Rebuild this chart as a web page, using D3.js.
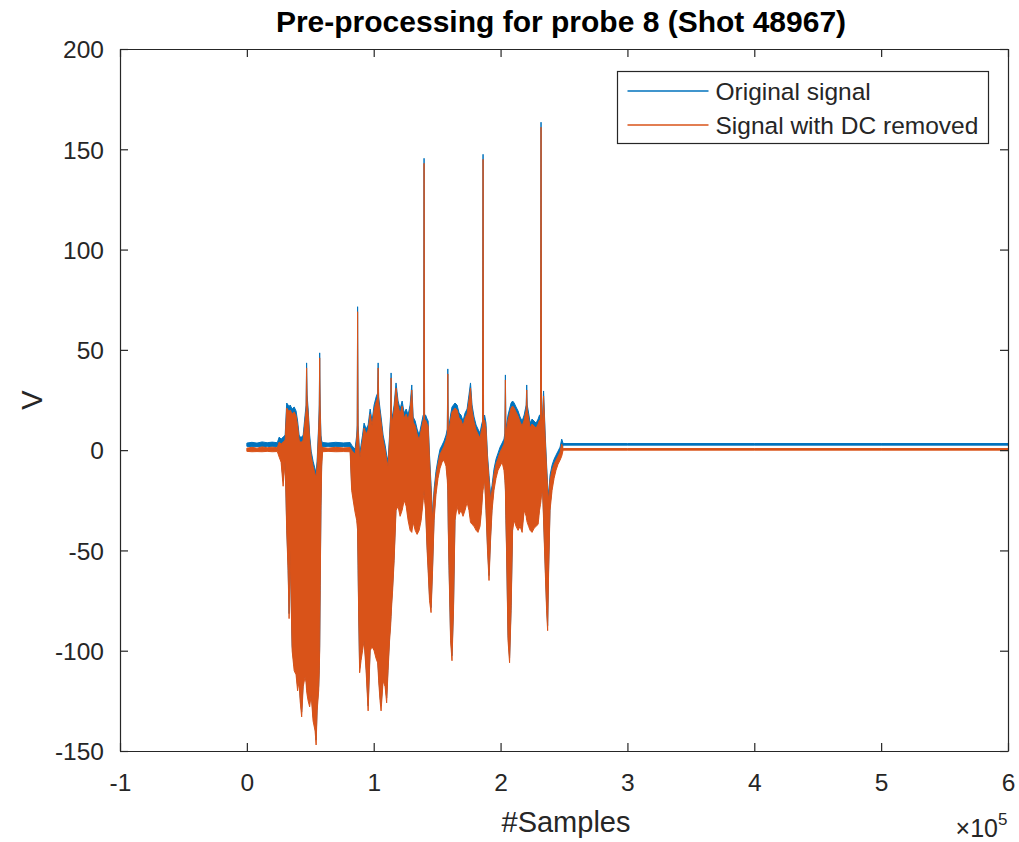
<!DOCTYPE html>
<html>
<head>
<meta charset="utf-8">
<script src="https://cdn.jsdelivr.net/npm/d3@7"></script>
<style>
  body { margin: 0; background: #fff; }
  text { font-family: Arial, "Liberation Sans", Helvetica, sans-serif; fill: #262626; }
</style>
</head>
<body>
<svg id="chart" width="1019" height="842"></svg>
<script>
// Envelope of the probe signal: x in units of 1e5 samples,
// max / min of the DC-removed signal in each slice.
const sampleX = [
  0.000, 0.040, 0.080, 0.120, 0.160, 0.200, 0.240, 0.255, 0.270, 0.286, 0.302, 0.314,
  0.325, 0.333, 0.341, 0.357, 0.373, 0.388, 0.400, 0.412, 0.420, 0.432, 0.444, 0.459,
  0.467, 0.471, 0.475, 0.483, 0.495, 0.507, 0.522, 0.538, 0.546, 0.554, 0.566, 0.571,
  0.574, 0.578, 0.584, 0.590, 0.597, 0.640, 0.700, 0.760, 0.814, 0.826, 0.838, 0.853,
  0.866, 0.870, 0.873, 0.877, 0.881, 0.889, 0.900, 0.912, 0.924, 0.940, 0.956, 0.972,
  0.987, 1.003, 1.019, 1.031, 1.035, 1.039, 1.050, 1.058, 1.074, 1.090, 1.102, 1.113,
  1.125, 1.133, 1.137, 1.141, 1.149, 1.161, 1.176, 1.192, 1.208, 1.224, 1.240, 1.256,
  1.271, 1.287, 1.300, 1.311, 1.327, 1.342, 1.358, 1.374, 1.390, 1.394, 1.397, 1.401,
  1.409, 1.421, 1.429, 1.440, 1.452, 1.464, 1.476, 1.491, 1.507, 1.523, 1.539, 1.554,
  1.570, 1.580, 1.584, 1.588, 1.594, 1.606, 1.617, 1.629, 1.641, 1.657, 1.673, 1.688,
  1.704, 1.720, 1.736, 1.751, 1.763, 1.775, 1.791, 1.807, 1.822, 1.838, 1.850, 1.858,
  1.862, 1.866, 1.874, 1.885, 1.897, 1.909, 1.921, 1.933, 1.948, 1.964, 1.980, 1.996,
  2.012, 2.027, 2.034, 2.038, 2.042, 2.047, 2.059, 2.071, 2.083, 2.095, 2.107, 2.122,
  2.138, 2.154, 2.170, 2.186, 2.202, 2.206, 2.210, 2.221, 2.233, 2.248, 2.264, 2.280,
  2.296, 2.307, 2.315, 2.319, 2.323, 2.331, 2.339, 2.352, 2.363, 2.371, 2.379, 2.390,
  2.406, 2.422, 2.437, 2.453, 2.469, 2.482, 2.493, 3.000, 4.000, 5.000, 6.000
];
const dcHigh = [
  1.0, 1.4, 1.0, 1.6, 1.2, 1.5, 1.2, 4, 3, 4, 5, 21,
  20, 19, 20, 18, 19, 17, 12, 5, 4, 4, 5, 15,
  20, 41, 25, 18, 5, -3, -8, -12, -13, -8, 10, 20,
  46, 20, 5, 2, 1.3, 1.0, 1.4, 1.1, 1.3, 0, -1, -2,
  5, 10, 69, 10, 5, -5, 0, 5, 11, 8, 10, 18,
  12, 20, 24, 26, 41, 24, 18, 14, 5, 0, -5, -8,
  5, 15, 36, 15, 15, 20, 31, 22, 18, 22, 16, 18,
  15, 20, 30, 14, 12, 8, 5, 10, 15, 15, 143, 15,
  15, 13, 12, -5, -20, -35, -22, -13, -7, -2, 0, 2,
  5, 8, 38, 8, 10, 15, 19, 20, 21, 20, 16, 15,
  12, 16, 18, 25, 31, 20, 14, 10, 8, 6, 10, 12,
  145, 12, 15, 11, -5, -15, -25, -20, -12, -7, -4, -1,
  1, 3, 6, 35, 8, 10, 15, 18, 21, 22, 21, 19,
  17, 14, 12, 15, 20, 30, 20, 16, 11, 13, 12, 11,
  13, 15, 15, 161, 15, 15, 27, 5, -10, -20, -25, -15,
  -10, -7, -5, -3, -1, 3, 0.8, 0.8, 0.8, 0.8, 0.8
];
const dcLow = [
  -0.6, -0.8, -0.7, -0.8, -0.6, -0.8, -0.7, -3.5, -6, -18, -5, -40,
  -60, -84, -50, -100, -110, -112, -120, -115, -125, -133, -118, -113,
  -116, -120, -122, -125, -128, -122, -135, -140, -147, -130, -120, -110,
  -100, -70, -30, -8, -0.8, -0.6, -0.8, -0.7, -0.8, -20, -25, -31,
  -35, -38, -40, -60, -80, -111, -105, -100, -95, -110, -130, -100,
  -98, -100, -104, -106, -110, -115, -125, -130, -115, -118, -126, -110,
  -95, -88, -83, -78, -70, -55, -30, -28, -33, -30, -25, -28,
  -35, -40, -41, -36, -40, -42, -40, -35, -25, -22, -20, -25,
  -30, -50, -60, -75, -81, -60, -35, -22, -14, -9, -6, -5,
  -8, -15, -20, -40, -60, -95, -105, -80, -35, -28, -32, -30,
  -33, -30, -26, -30, -36, -37, -38, -40, -41, -38, -30, -22,
  -20, -18, -15, -30, -50, -65, -45, -30, -20, -14, -10, -8,
  -6, -10, -15, -20, -35, -50, -95, -106, -80, -40, -35, -38,
  -40, -38, -41, -30, -33, -35, -36, -38, -40, -41, -39, -38,
  -37, -30, -27, -25, -22, -20, -35, -60, -80, -90, -60, -30,
  -20, -14, -10, -7, -5, -3, 0, 0, 0, 0, 0
];
// DC level that was subtracted from the original probe signal (V)
const dcOffset = 2.5;

const xTicks = [-1, 0, 1, 2, 3, 4, 5, 6];
const yTicks = [-150, -100, -50, 0, 50, 100, 150, 200];
const seriesNames = ["Original signal", "Signal with DC removed"];
const seriesColors = ["#0072BD", "#D95319"];

const margin = { top: 49, right: 11, bottom: 91, left: 120 };
const W = 1019, H = 842;
const width = W - margin.left - margin.right;
const height = H - margin.top - margin.bottom;

const svg = d3.select("#chart");
const g = svg.append("g").attr("transform", `translate(${margin.left},${margin.top})`);

const x = d3.scaleLinear().domain([-1, 6]).range([0, width]);
const y = d3.scaleLinear().domain([-150, 200]).range([height, 0]);

const rows = sampleX.map((sx, i) => ({ sx, hi: dcHigh[i], lo: dcLow[i] }));

g.append("clipPath").attr("id", "plotClip")
  .append("rect").attr("width", width).attr("height", height);

const plot = g.append("g").attr("clip-path", "url(#plotClip)");

// original signal (underneath), then DC-removed on top
[dcOffset, 0].forEach((off, k) => {
  const area = d3.area()
    .x(d => x(d.sx))
    .y0(d => y(d.lo + off))
    .y1(d => y(d.hi + off));
  plot.append("path")
    .datum(rows)
    .attr("d", area)
    .attr("fill", seriesColors[k])
    .attr("stroke", seriesColors[k])
    .attr("stroke-width", 1)
    .attr("stroke-linejoin", "round");
});

// axes, MATLAB style: box, ticks pointing inwards
const axisColor = "#262626";
const tickLen = 8;
const plainFmt = d => String(d);   // plain hyphen minus, like MATLAB

const xAxis = g.append("g").attr("transform", `translate(0,${height})`)
  .call(d3.axisBottom(x).tickValues(xTicks).tickSizeInner(-tickLen).tickSizeOuter(0)
    .tickPadding(23).tickFormat(plainFmt));
const yAxis = g.append("g")
  .call(d3.axisLeft(y).tickValues(yTicks).tickSizeInner(-tickLen).tickSizeOuter(0)
    .tickPadding(16).tickFormat(plainFmt));
const xTop = g.append("g")
  .call(d3.axisTop(x).tickValues(xTicks).tickSizeInner(-tickLen).tickSizeOuter(0).tickFormat(""));
const yRight = g.append("g").attr("transform", `translate(${width},0)`)
  .call(d3.axisRight(y).tickValues(yTicks).tickSizeInner(-tickLen).tickSizeOuter(0).tickFormat(""));

[xAxis, yAxis, xTop, yRight].forEach(a => {
  a.selectAll("path.domain").attr("stroke", axisColor).attr("stroke-width", 1.2);
  a.selectAll(".tick line").attr("stroke", axisColor).attr("stroke-width", 1.2);
  a.selectAll(".tick text").attr("fill", axisColor)
    .style("font-size", "24.5px").style("font-family", "Arial, 'Liberation Sans', sans-serif");
});
yAxis.selectAll(".tick text").attr("dy", "0.36em");

// title and labels
svg.append("text")
  .attr("x", 561).attr("y", 32)
  .attr("text-anchor", "middle")
  .style("font-size", "30px").style("font-weight", "bold").style("fill", "#000")
  .text("Pre-processing for probe 8 (Shot 48967)");

svg.append("text")
  .attr("x", 566).attr("y", 832)
  .attr("text-anchor", "middle")
  .style("font-size", "29px")
  .text("#Samples");

svg.append("text")
  .attr("transform", "translate(42,400) rotate(-90)")
  .attr("text-anchor", "middle")
  .style("font-size", "29px")
  .text("V");

svg.append("text")
  .attr("x", 998).attr("y", 837)
  .attr("text-anchor", "end")
  .style("font-size", "25px")
  .text("×10");
svg.append("text")
  .attr("x", 998).attr("y", 825)
  .style("font-size", "17px")
  .text("5");

// legend
const leg = svg.append("g").attr("transform", "translate(617.5,71.5)");
leg.append("rect").attr("width", 371).attr("height", 72)
  .attr("fill", "#fff").attr("stroke", axisColor).attr("stroke-width", 1.2);
seriesNames.forEach((name, i) => {
  const ly = 19.5 + i * 34;
  leg.append("line").attr("x1", 10).attr("x2", 91).attr("y1", ly).attr("y2", ly)
    .attr("stroke", seriesColors[i]).attr("stroke-width", 1.5);
  leg.append("text").attr("x", 98).attr("y", ly).attr("dy", "0.35em")
    .style("font-size", "24.5px").text(name);
});
</script>
</body>
</html>
